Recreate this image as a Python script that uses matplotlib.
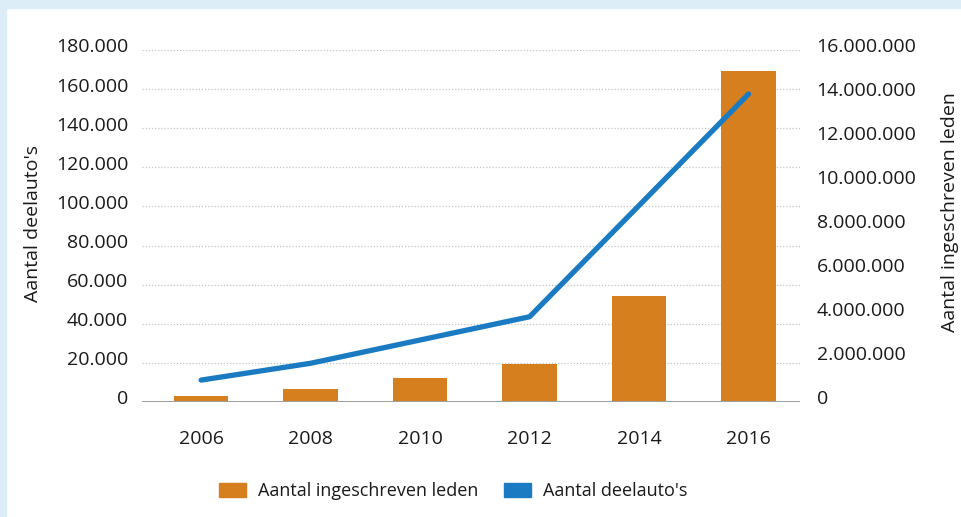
import matplotlib
matplotlib.use("Agg")
import matplotlib.pyplot as plt
from matplotlib.patches import Patch, Rectangle
from matplotlib.transforms import ScaledTranslation

plt.rcParams['font.family'] = ['Open Sans', 'DejaVu Sans']

years = ['2006', '2008', '2010', '2012', '2014', '2016']
leden = [270000, 590000, 1090000, 1730000, 4820000, 15050000]   # right axis (bars)
deelautos = [11200, 19800, 31700, 43600, 100500, 157500]        # left axis (line)
left_ticks = list(range(0, 180001, 20000))
right_ticks = list(range(0, 16000001, 2000000))

def fmt(v):
    return f"{v:,}".replace(",", ".")

ORANGE = '#d67f1f'
BLUE = '#1a7bc3'
TXT = '#1a1a1a'

fig = plt.figure(figsize=(9.62, 5.17), dpi=100)
fig.patch.set_facecolor('white')
# light blue frame strips
fig.patches.append(Rectangle((0, 0), 6/962, 1, transform=fig.transFigure, color='#dcedf8', zorder=0))
fig.patches.append(Rectangle((0, 1-8/517), 1, 8/517, transform=fig.transFigure, color='#dcedf8', zorder=0))

ax = fig.add_axes([142/962, 1-402/517, (800-142)/962, 352/517])
ax2 = ax.twinx()

x = list(range(len(years)))
ax2.bar(x, leden, width=0.5, color=ORANGE, zorder=2)
ax.plot(x, deelautos, color=BLUE, lw=3.8, solid_capstyle='round', zorder=5)

ax.set_zorder(ax2.get_zorder() + 1)
ax.patch.set_visible(False)

ax.set_ylim(0, 180000)
ax2.set_ylim(0, 16000000)
ax.set_xlim(-0.54, 5.47)

ax.set_yticks(left_ticks)
ax.set_yticklabels([fmt(v) for v in left_ticks])
ax2.set_yticks(right_ticks)
ax2.set_yticklabels([fmt(v) for v in right_ticks])
ax.set_xticks(x)
ax.set_xticklabels(years)

for a in (ax, ax2):
    for s in a.spines.values():
        s.set_visible(False)
    a.tick_params(length=0, labelsize=14, colors=TXT)
ax.tick_params(axis='y', pad=10)
ax2.tick_params(axis='y', pad=12)
ax.tick_params(axis='x', pad=20)

# lift y tick labels slightly above their gridlines, as in the reference
shift = ScaledTranslation(0, 4.5/100, fig.dpi_scale_trans)
for lab in ax.get_yticklabels() + ax2.get_yticklabels():
    lab.set_transform(lab.get_transform() + shift)

# gridlines at left ticks (drawn on bar axes, behind bars)
for v in left_ticks[1:]:
    ax2.axhline(v / 180000 * 16000000, color='#c4c4c4', lw=0.9, ls=(0, (1, 1.5)), zorder=1)
ax2.axhline(0, color='#a0a0a0', lw=2.2, zorder=3)

fig.text(33/962, 1-223/517, "Aantal deelauto's", rotation=90, fontsize=14,
         color=TXT, ha='center', va='center')
fig.text(950/962, 1-212/517, "Aantal ingeschreven leden", rotation=90, fontsize=14,
         color=TXT, ha='center', va='center')

handles = [Patch(color=ORANGE), Patch(color=BLUE)]
fig.legend(handles, ['Aantal ingeschreven leden', "Aantal deelauto's"],
           loc='center', bbox_to_anchor=(0.4714, 1-491/517), ncol=2, frameon=False,
           fontsize=13, handlelength=1.5, handleheight=0.83, handletextpad=0.67,
           columnspacing=1.4, labelcolor=TXT)

fig.savefig('out.png', dpi=100)
